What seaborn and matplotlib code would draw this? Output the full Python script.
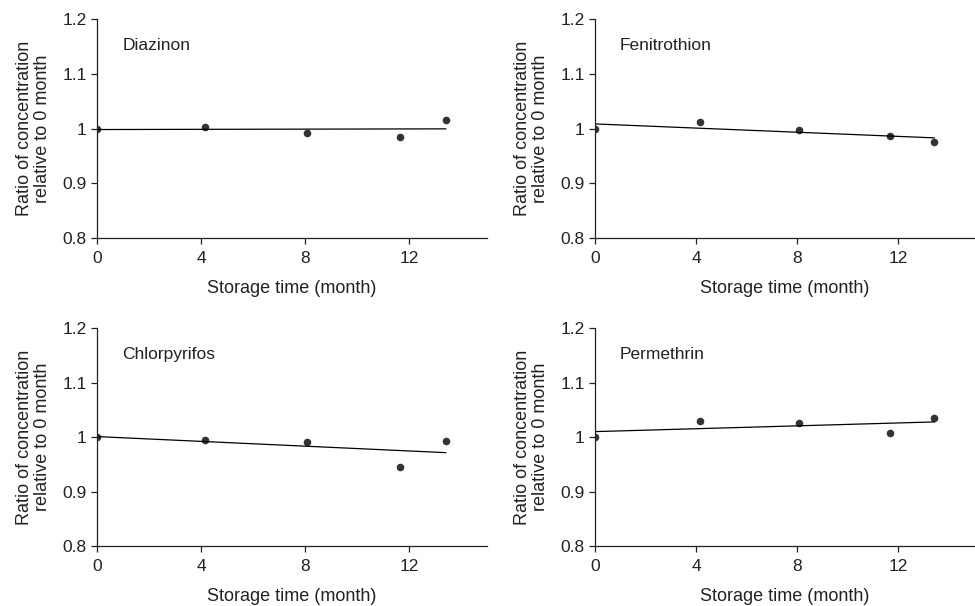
import numpy as np
import pandas as pd
import matplotlib
matplotlib.use("Agg")
import matplotlib.pyplot as plt
import seaborn as sns

# 데이터
compounds = ["Diazinon", "Fenitrothion", "Chlorpyrifos", "Permethrin"]
months = [0, 4.15, 8.07, 11.65, 13.42]
diazinon = [1.000, 1.003, 0.991, 0.985, 1.015]
fenitrothion = [0.999, 1.011, 0.998, 0.987, 0.976]
chlorpyrifos = [1.000, 0.994, 0.991, 0.945, 0.992]
permethrin = [1.000, 1.030, 1.026, 1.008, 1.035]
yticks = [0.8, 0.9, 1.0, 1.1, 1.2]
ytick_labels = ["0.8", "0.9", "1", "1.1", "1.2"]
xticks = [0, 4, 8, 12]

sns.set_style("ticks")
plt.rcParams["font.family"] = ["Liberation Sans", "DejaVu Sans"]

df = pd.DataFrame({
    "month": months * 4,
    "ratio": diazinon + fenitrothion + chlorpyrifos + permethrin,
    "compound": np.repeat(compounds, len(months)),
})

fig = plt.figure(figsize=(9.75, 6.06), dpi=100)
boxes = [
    [0.0995, 0.6073, 0.400, 0.3613],
    [0.6103, 0.6073, 0.389, 0.3613],
    [0.0995, 0.0990, 0.400, 0.3597],
    [0.6103, 0.0990, 0.389, 0.3597],
]

for name, box in zip(compounds, boxes):
    ax = fig.add_axes(box)
    data = df[df["compound"] == name]
    sns.regplot(x="month", y="ratio", data=data, ax=ax, ci=None, truncate=True,
                scatter_kws={"s": 30, "color": "black", "linewidths": 0},
                line_kws={"color": "black", "lw": 0.9})
    ax.set_xlim(0, 15)
    ax.set_ylim(0.8, 1.2)
    ax.set_xticks(xticks)
    ax.set_yticks(yticks)
    ax.set_yticklabels(ytick_labels)
    ax.tick_params(length=4.5, width=0.9, colors="#222222", labelsize=12.5, pad=3)
    ax.tick_params(axis="x", pad=5)
    for s in ["left", "bottom"]:
        ax.spines[s].set_linewidth(0.9)
        ax.spines[s].set_color("#222222")
    sns.despine(ax=ax)
    ax.text(0.97, 1.152, name, fontsize=12.5, va="center", ha="left", color="#222222")
    ax.set_xlabel("Storage time (month)", fontsize=13, labelpad=10, color="#222222")
    ax.set_ylabel("Ratio of concentration\nrelative to 0 month", fontsize=13,
                  labelpad=8, linespacing=1.1, color="#222222")

plt.savefig("out.png", dpi=100)
plt.close()
